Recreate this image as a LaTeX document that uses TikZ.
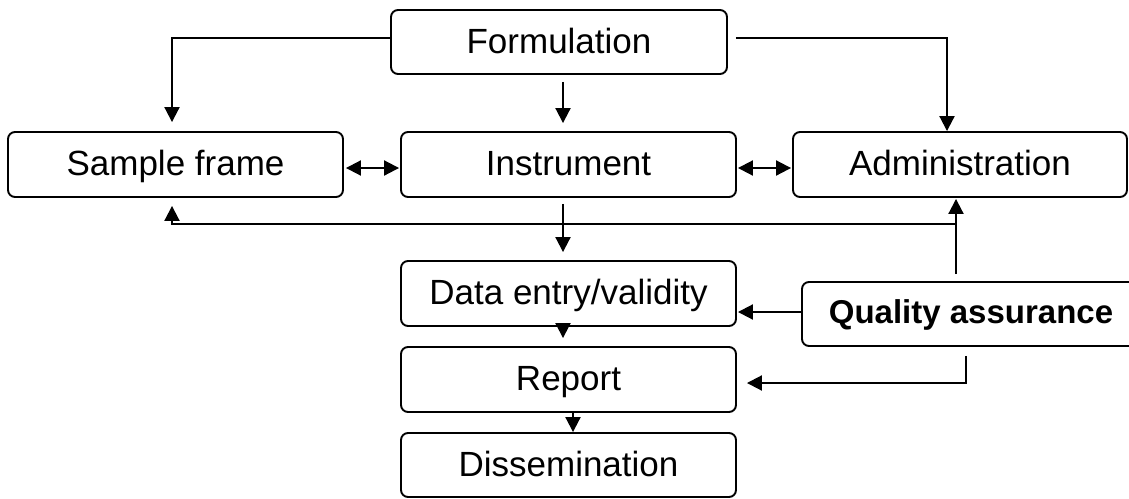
\documentclass[tikz,border=0pt]{standalone}
\usepackage{fontspec}
\setmainfont{Liberation Sans}
\usetikzlibrary{arrows.meta,calc}
\begin{document}
\begin{tikzpicture}[x=1pt,y=1pt,
  box/.style={draw, line width=1.9pt, rounded corners=7pt, inner sep=0pt,
    text height=30pt, text depth=8pt,
    minimum width=335pt, minimum height=65pt, font=\fontsize{35}{40}\selectfont},
  tip/.tip={Triangle[length=15pt,width=15pt]},
  conn/.style={line width=2pt, -tip},
  dbl/.style={line width=2pt, tip-tip}]
\useasboundingbox (0,0) rectangle (1129,-498);
\node[box, minimum width=336pt, minimum height=64pt] (form) at (559,-42) {Formulation};
\node[box] (sample) at (175.5,-164.5) {Sample frame};
\node[box] (instr) at (568.5,-164.5) {Instrument};
\node[box, minimum width=334pt] (admin) at (960,-164.5) {Administration};
\node[box] (data) at (568.5,-293.5) {Data entry/validity};
\node[box] (report) at (568.5,-379.5) {Report};
\node[box, minimum height=64pt] (diss) at (568.5,-465) {Dissemination};
\node[box, minimum width=338pt, minimum height=64pt, text height=26pt, text depth=8pt,
  font=\fontsize{33}{40}\selectfont\bfseries] (qa) at (971,-314) {Quality assurance};
% connectors
\draw[conn] ($(form.west)+(0,4)$) -| ($(sample.north)+(-3.5,9)$);
\draw[conn] ($(form.east)+(8,4)$) -| ($(admin.north)+(-13,0)$);
\draw[conn] ($(form.south)+(4,-7)$) -- ($(instr.north)+(-5.5,8)$);
\draw[conn] ($(instr.south)+(-5.5,-6)$) -- ($(data.north)+(-5.5,8)$);
\draw[dbl] ($(sample.east)+(2,-3.5)$) -- ($(instr.west)+(-1,-3.5)$);
\draw[dbl] ($(instr.east)+(1,-3.5)$) -- ($(admin.west)+(-1,-3.5)$);
\draw[conn] ($(qa.north)+(-15,7)$) -- ($(admin.south)+(-4,-1)$);
\coordinate (fb) at ($(qa.north)+(-15,57)$);
\draw[conn] (fb) -| ($(sample.south)+(-3.5,-8)$);
\draw[conn] ($(qa.west)+(0,2)$) -- ($(data.east)+(1,-18.5)$);
\draw[conn] ($(qa.south)+(-5,-9)$) |- ($(report.east)+(10,-3.5)$);
\draw[conn] ($(data.south)+(-5.5,0)$) -- ($(report.north)+(-5.5,8)$);
\draw[conn] ($(report.south)+(4.5,0)$) -- ($(diss.north)+(4.5,0)$);
\end{tikzpicture}
\end{document}
